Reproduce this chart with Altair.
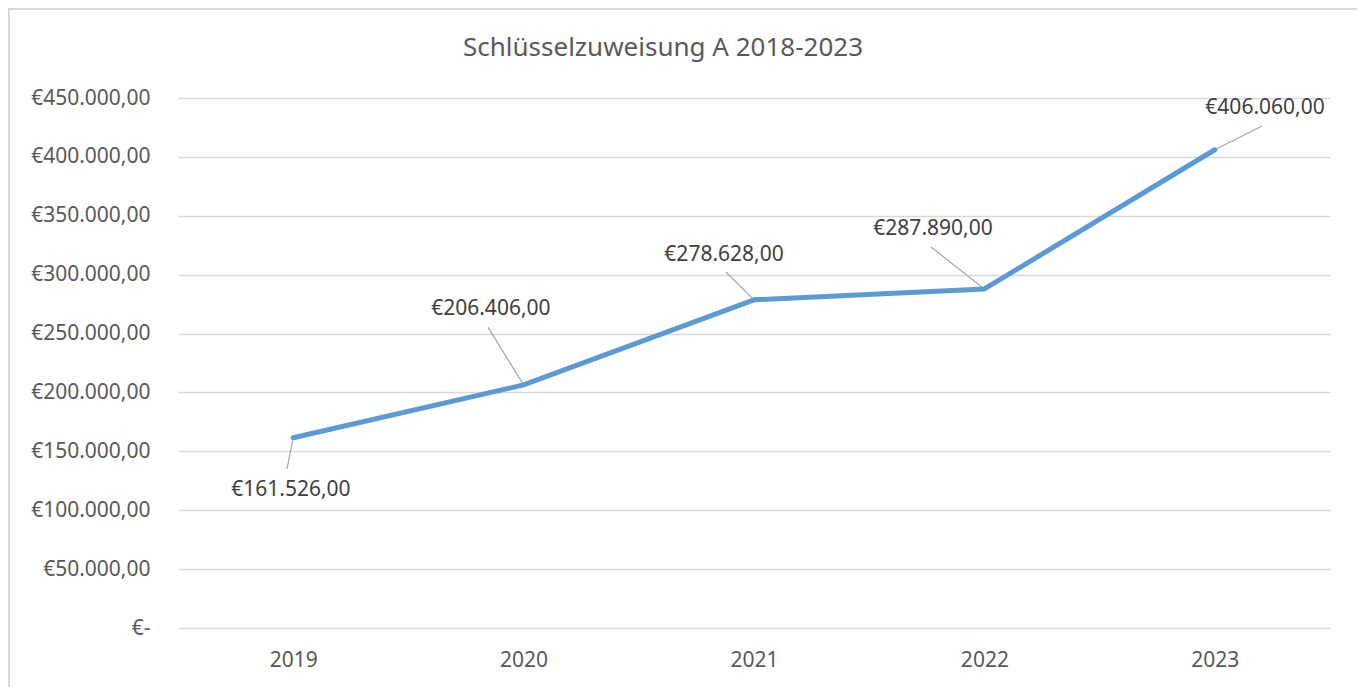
import altair as alt
import pandas as pd

# ---- data ----
title_text = "Schlüsselzuweisung A 2018-2023"
years = [2019, 2020, 2021, 2022, 2023]
values = [161526, 206406, 278628, 287890, 406060]
labels = ["€161.526,00", "€206.406,00", "€278.628,00", "€287.890,00", "€406.060,00"]
# label anchor positions (data units) for the data labels and leader-line ends
label_x = [2018.99, 2019.858, 2020.870, 2021.777, 2023.218]
label_y = [117000, 271000, 316700, 338800, 441500]
leader_x = [2018.973, 2019.845, 2020.878, 2021.768, 2023.205]
leader_y = [135000, 255500, 302300, 323500, 426200]
y_ticks = [0, 50000, 100000, 150000, 200000, 250000, 300000, 350000, 400000, 450000]

df = pd.DataFrame({
    "year": years, "value": values, "label": labels,
    "lx": label_x, "ly": label_y, "ex": leader_x, "ey": leader_y,
})

FONT = "Noto Sans"
GRID = "#d9d9d9"
TXT = "#595959"

x_scale = alt.Scale(domain=[2018.5, 2023.5], nice=False, zero=False)
y_scale = alt.Scale(domain=[0, 450000], nice=False)

label_expr = (
    "datum.value == 0 ? '€-' : '€' + "
    "replace(replace(replace(format(datum.value, ',.2f'), regexp(',', 'g'), '#'), "
    "regexp('[.]', 'g'), ','), regexp('#', 'g'), '.')"
)

base = alt.Chart(df)

line = base.mark_line(color="#5B9BD5", strokeWidth=5, strokeCap="round", strokeJoin="round").encode(
    x=alt.X("year:Q", scale=x_scale,
            axis=alt.Axis(values=years, format="d", title=None, grid=False, domain=False,
                          ticks=False, labelFont=FONT, labelFontSize=21, labelColor=TXT,
                          labelPadding=21)),
    y=alt.Y("value:Q", scale=y_scale,
            axis=alt.Axis(values=y_ticks, labelExpr=label_expr, title=None, grid=True,
                          gridColor=GRID, gridWidth=1.5, domain=False, ticks=False,
                          labelFont=FONT, labelFontSize=21, labelColor=TXT, labelPadding=28)),
)

leaders = base.mark_rule(color="#A6A6A6", strokeWidth=1.2).encode(
    x=alt.X("year:Q", scale=x_scale),
    y=alt.Y("value:Q", scale=y_scale),
    x2="ex:Q",
    y2="ey:Q",
)

texts = base.mark_text(font=FONT, fontSize=21, color="#404040", align="center",
                       baseline="middle").encode(
    x=alt.X("lx:Q", scale=x_scale),
    y=alt.Y("ly:Q", scale=y_scale),
    text="label:N",
)

one = pd.DataFrame({"t": [title_text]})

border = alt.Chart(one).mark_rect(
    fillOpacity=0, stroke=GRID, strokeWidth=2
).encode(
    x=alt.value(-169), x2=alt.value(1181), y=alt.value(-89), y2=alt.value(600)
)

title = alt.Chart(one).mark_text(
    font=FONT, fontSize=26, color=TXT, align="center", baseline="alphabetic"
).encode(x=alt.value(485), y=alt.value(-42), text="t:N")

chart = alt.layer(border, leaders, line, texts, title).properties(
    width=1152,
    height=530,
    padding={"left": 170, "top": 90, "right": 27, "bottom": 60},
    autosize=alt.AutoSizeParams(type="none"),
    view=alt.ViewBackground(stroke="transparent", strokeWidth=0),
).configure_view(stroke="transparent", strokeWidth=0).configure(background="white")

chart.save("out.html", embed_options={"renderer": "svg", "actions": False})
